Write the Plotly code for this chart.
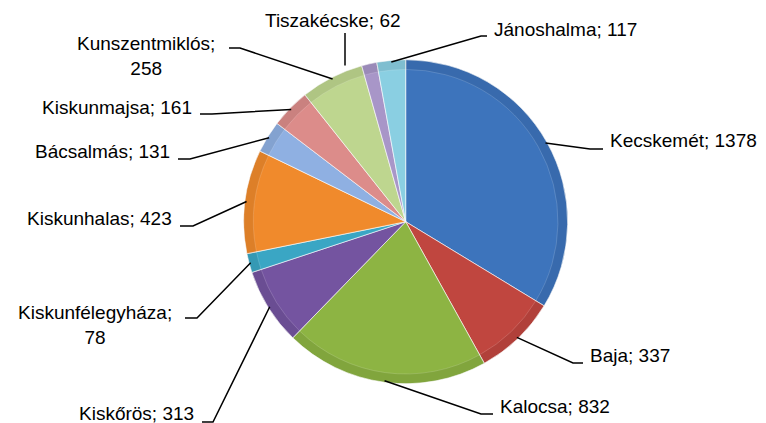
import math
import plotly.graph_objects as go

# ---- data ----
cities = ["Kecskemét", "Baja", "Kalocsa", "Kiskőrös", "Kiskunfélegyháza",
          "Kiskunhalas", "Bácsalmás", "Kiskunmajsa", "Kunszentmiklós",
          "Tiszakécske", "Jánoshalma"]
values = [1378, 337, 832, 313, 78, 423, 131, 161, 258, 62, 117]

# ---- styles ----
colors = ["#3D74BC", "#C0463F", "#8DB443", "#7454A0", "#3AA6C4", "#F08A2C",
          "#8FB0E2", "#DC8C8A", "#BED68F", "#A896C8", "#8ACFE2"]

# page has an 8px body margin; work in screen coordinates
OFF = 8
SW, SH = 766, 423
W, H = SW - OFF, SH - OFF
CX, CY, R = 405.7, 221.7, 162.0

# label layout (screen px): text anchor, leader elbow
label_layout = {
    "Kecskemét":        dict(x=608, y=140, xa="left",   ex=590, ey=149, br=False),
    "Baja":             dict(x=588, y=355, xa="left",   ex=573, ey=363, br=False),
    "Kalocsa":          dict(x=498, y=406, xa="left",   ex=481, ey=414, br=False),
    "Kiskőrös":         dict(x=196, y=413, xa="right",  ex=213, ey=422, br=False),
    "Kiskunfélegyháza": dict(x=95,  y=325, xa="center", ex=197, ey=318, br=True, lx=185),
    "Kiskunhalas":      dict(x=174, y=218, xa="right",  ex=193, ey=226, br=False),
    "Bácsalmás":        dict(x=172, y=151, xa="right",  ex=190, ey=159, br=False),
    "Kiskunmajsa":      dict(x=194, y=107, xa="right",  ex=212, ey=114, br=False),
    "Kunszentmiklós":   dict(x=146, y=56,  xa="center", ex=240, ey=48, br=True, lx=229),
    "Tiszakécske":      dict(x=333, y=20,  xa="center", ex=345, ey=33, br=False),
    "Jánoshalma":       dict(x=492, y=29,  xa="left",   ex=481, ey=36, br=False),
}

dom = dict(x=[(CX - OFF - R) / W, (CX - OFF + R) / W],
           y=[(SH - CY - R) / H, (SH - CY + R) / H])

fig = go.Figure()
fig.add_trace(go.Pie(
    labels=cities, values=values, sort=False, direction="clockwise", rotation=0,
    textinfo="none", hoverinfo="label+value",
    marker=dict(colors=colors, line=dict(color="rgba(255,255,255,0.6)", width=1)),
    domain=dom, showlegend=False,
))

# subtle darker rim to hint at the bevel
fig.add_trace(go.Pie(
    labels=cities, values=values, sort=False, direction="clockwise", rotation=0,
    textinfo="none", hoverinfo="skip", hole=0.94,
    marker=dict(colors=["rgba(0,0,0,0.08)"] * len(values),
                line=dict(color="rgba(255,255,255,0.3)", width=0.5)),
    domain=dom, showlegend=False,
))

total = sum(values)
cum = 0.0
shapes, annots = [], []
font = dict(family="Liberation Sans, Arial, sans-serif", size=19, color="#000000")
for name, v in zip(cities, values):
    mid = (cum + v / 2) / total * 2 * math.pi
    cum += v
    px = CX + R * 0.99 * math.sin(mid)
    py = CY - R * 0.99 * math.cos(mid)
    L = label_layout[name]
    if name == "Tiszakécske":
        path = f"M {L['ex']},{L['ey']} L {L['ex']},{py}"
    else:
        lx = L.get("lx")
        if lx is None:
            lx = L['x'] - 5 if L['xa'] == "left" else L['x'] + 6
        path = f"M {lx},{L['ey']} L {L['ex']},{L['ey']} L {px},{py}"
    shapes.append(dict(type="path", path=path, xref="x", yref="y",
                       line=dict(color="#000000", width=1.5)))
    text = f"{name};<br>{v}" if L['br'] else f"{name}; {v}"
    annots.append(dict(x=L['x'], y=L['y'], xref="x", yref="y", text=text,
                       showarrow=False, xanchor=L['xa'], yanchor="middle",
                       font=font, align="center"))

fig.update_layout(
    width=W, height=H, margin=dict(l=0, r=0, t=0, b=0),
    paper_bgcolor="white", plot_bgcolor="rgba(0,0,0,0)",
    xaxis=dict(range=[OFF, SW], visible=False, fixedrange=True),
    yaxis=dict(range=[SH, OFF], visible=False, fixedrange=True),
    shapes=shapes, annotations=annots,
)
fig.write_html("out.html")
